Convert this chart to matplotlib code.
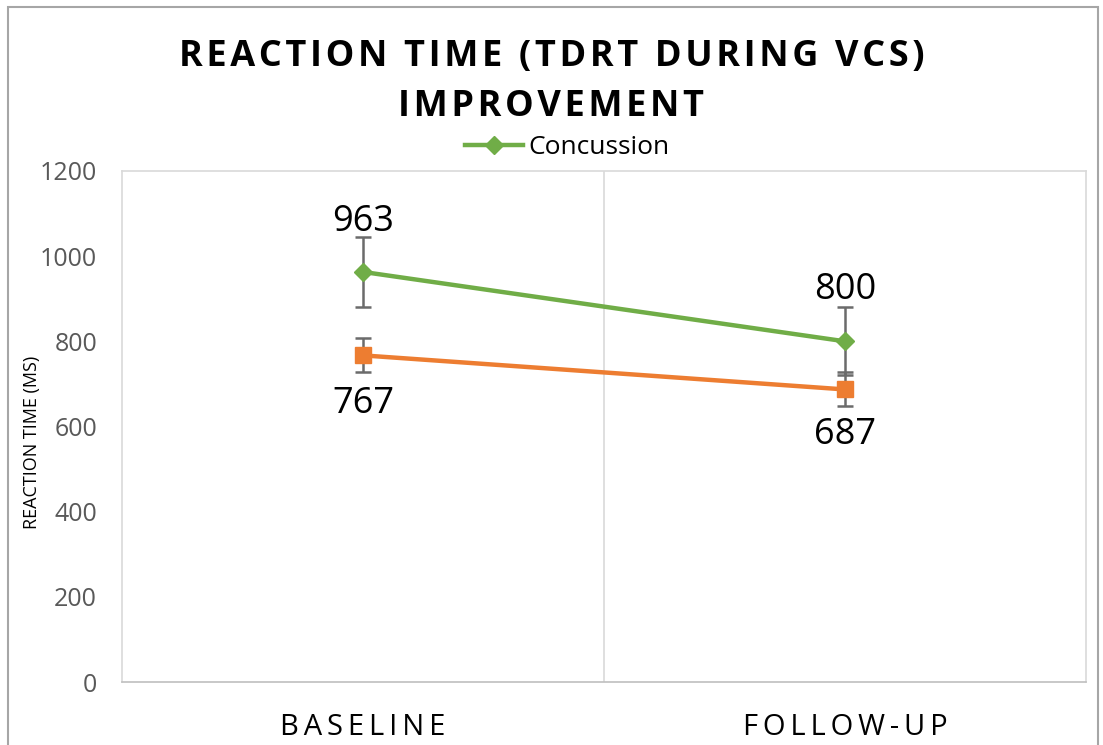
import matplotlib
matplotlib.use("Agg")
import matplotlib.pyplot as plt
from matplotlib.lines import Line2D
from matplotlib.patches import Rectangle

categories = ['BASELINE', 'FOLLOW-UP']
concussion = [963, 800]
concussion_err = [82, 80]
control = [767, 687]
control_err = [40, 40]
yticks = [0, 200, 400, 600, 800, 1000, 1200]

GREEN = '#70AD47'
ORANGE = '#ED7D31'
GREY = '#595959'


def spaced(text, sep='\u200a'):
    # fake letter spacing like the original
    return sep.join(text)


def main():
    plt.rcParams['font.family'] = ['Open Sans', 'DejaVu Sans']
    fig = plt.figure(figsize=(11.03, 7.45), dpi=100)
    ax = fig.add_axes([122 / 1103, 1 - 682 / 745, 964 / 1103, 511 / 745])

    x = [0.5, 1.5]
    ax.errorbar(x, concussion, yerr=concussion_err, color=GREEN, lw=3.2,
                marker='D', ms=9, ecolor='#6b6b6b', elinewidth=1.8,
                capsize=6, capthick=1.8, zorder=3)
    ax.errorbar(x, control, yerr=control_err, color=ORANGE, lw=3.2,
                marker='s', ms=12, ecolor='#6b6b6b', elinewidth=1.8,
                capsize=6, capthick=1.8, zorder=3)

    # data labels
    for xi, v, off in zip(x, concussion, [36, 37]):
        ax.annotate(str(v), (xi, v), xytext=(0, off), textcoords='offset points',
                    ha='center', va='center', fontsize=26, color='black')
    for xi, v, off in zip(x, control, [-35, -33]):
        ax.annotate(str(v), (xi, v), xytext=(0, off), textcoords='offset points',
                    ha='center', va='center', fontsize=26, color='black')

    ax.set_xlim(0, 2)
    ax.set_ylim(0, 1200)
    ax.set_yticks(yticks)
    ax.set_yticklabels([str(t) for t in yticks], fontsize=18, color=GREY)
    ax.set_xticks(x)
    ax.set_xticklabels([spaced(c, '\u2009') for c in categories],
                       fontsize=21, color='black')
    ax.tick_params(length=0)
    ax.tick_params(axis='x', pad=22)
    ax.tick_params(axis='y', pad=18)
    ax.axvline(1, color='#d9d9d9', lw=1.2, zorder=1)
    for s in ax.spines.values():
        s.set_color('#d9d9d9')
        s.set_linewidth(1.2)
    ax.spines['bottom'].set_color('#bfbfbf')

    ax.set_ylabel('REACTION TIME (MS)', fontsize=13, color='black')
    ax.yaxis.set_label_coords(-0.084, 0.468)

    fig.text(0.5, 1 - 57 / 745, spaced('REACTION TIME (TDRT DURING VCS)'),
             ha='center', va='center', fontsize=26, fontweight='bold')
    fig.text(0.5, 1 - 107 / 745, spaced('IMPROVEMENT'),
             ha='center', va='center', fontsize=26, fontweight='bold')

    handle = Line2D([], [], color=GREEN, lw=3.2, marker='D', ms=9)
    ax.legend([handle], ['Concussion'], loc='center',
              bbox_to_anchor=(0.514, 1 - 148 / 745),
              bbox_transform=fig.transFigure, frameon=False, fontsize=19,
              handlelength=2.2, borderpad=0, handletextpad=0.2)

    fig.patches.append(Rectangle((8 / 1103, -0.01), 1090 / 1103, 1.0,
                                 transform=fig.transFigure, fill=False,
                                 edgecolor='#a6a6a6', lw=1.5))

    fig.savefig('out.png', dpi=100)


if __name__ == "__main__":
    main()
